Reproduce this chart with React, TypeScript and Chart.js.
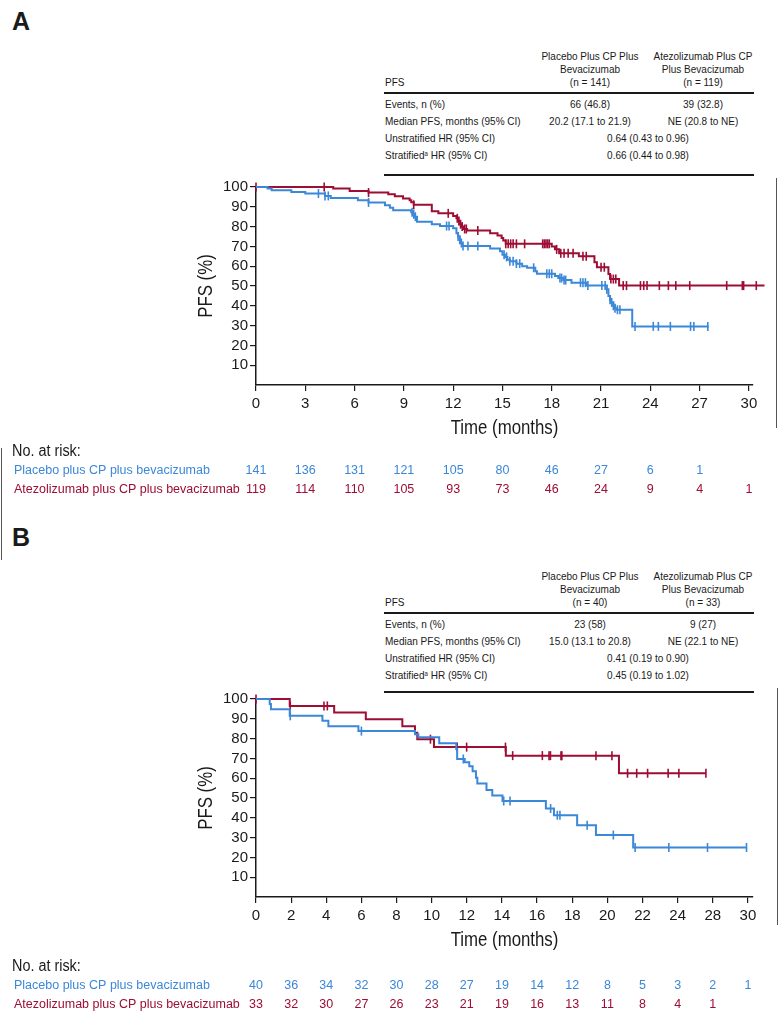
import React, { useEffect, useRef } from 'react';
import { Chart, registerables } from 'chart.js';

Chart.register(...registerables);

const FONT = "'Liberation Sans', Arial, Helvetica, sans-serif";
const BLUE = '#3b87d8';
const RED = '#9d0d34';
const INK = '#1a1a1a';

// ---------------- Panel A data ----------------
const xTicksA = [0, 3, 6, 9, 12, 15, 18, 21, 24, 27, 30];
const xLabelsA = ['0', '3', '6', '9', '12', '15', '18', '21', '24', '27', '30'];
const yTicks = [10, 20, 30, 40, 50, 60, 70, 80, 90, 100];

const placeboA_t = [0, 0.7, 0.95, 2.15, 3.0, 4.2, 4.55, 6.2, 6.85, 7.85, 8.15, 8.35, 9.45, 9.55, 9.65, 9.8, 10.7, 11.2, 12.0, 12.2, 12.3, 12.4, 12.45, 12.55, 14.25, 14.85, 15.0, 15.15, 15.3, 15.45, 15.85, 16.2, 16.5, 17.0, 17.1, 18.2, 18.4, 18.7, 19.2, 20.1, 21.35, 21.45, 21.55, 21.6, 21.75, 21.85, 21.95, 22.9];
const placeboA_s = [100, 99.2, 98.3, 97.5, 96.7, 95.5, 94.5, 93.3, 92.2, 90.8, 89.5, 88.2, 87.2, 86.2, 85.0, 82.5, 81.2, 80.3, 79.2, 76.7, 75.0, 73.3, 71.7, 70.2, 69.0, 67.5, 65.8, 64.7, 63.3, 62.5, 61.3, 60.0, 59.2, 57.5, 56.2, 55.0, 54.0, 53.0, 51.7, 50.3, 48.3, 45.0, 43.0, 41.7, 40.0, 38.7, 38.0, 29.6];
const placeboA_end = 27.55;
const placeboA_cens = [3.8, 4.2, 4.4, 6.85, 9.5, 9.6, 9.7, 11.6, 11.75, 12.3, 12.4, 12.5, 12.6, 12.9, 13.5, 15.1, 15.25, 15.45, 15.65, 15.85, 16.05, 16.9, 17.7, 17.85, 18.0, 18.5, 18.6, 18.75, 18.85, 19.75, 19.9, 20.05, 20.2, 21.05, 21.25, 21.35, 21.55, 21.65, 21.75, 21.85, 22.0, 22.15, 23.07, 24.18, 24.49, 25.22, 26.45, 26.65, 27.5];

const atezoA_t = [0, 4.7, 5.7, 6.85, 8.05, 8.45, 8.95, 9.35, 9.45, 9.6, 10.7, 11.1, 12.0, 12.2, 12.3, 12.4, 12.5, 12.6, 12.85, 14.25, 14.7, 14.95, 15.05, 15.2, 18.0, 18.2, 18.45, 19.65, 20.6, 20.75, 21.45, 21.55, 22.1];
const atezoA_s = [100, 99.2, 98.0, 97.2, 96.3, 95.3, 94.2, 93.3, 92.3, 91.0, 87.8, 86.7, 85.3, 84.2, 82.8, 81.2, 80.0, 78.8, 78.0, 76.7, 75.5, 74.2, 73.0, 71.3, 70.0, 68.5, 66.5, 65.0, 62.0, 59.5, 56.0, 53.5, 50.2];
const atezoA_end = 30.95;
const atezoA_cens = [0, 4.15, 6.85, 9.6, 11.7, 12.25, 12.35, 12.45, 12.55, 12.7, 12.8, 13.5, 15.2, 15.35, 15.5, 15.65, 15.85, 16.35, 17.45, 17.55, 17.65, 17.75, 17.85, 18.3, 18.55, 18.75, 19.0, 19.3, 19.9, 20.1, 21.0, 21.2, 21.6, 21.75, 21.9, 22.35, 22.55, 23.4, 23.6, 23.8, 24.55, 25.1, 25.55, 26.4, 28.65, 29.6, 29.68, 30.45, 30.93];

const riskPlaceboA = [141, 136, 131, 121, 105, 80, 46, 27, 6, 1];
const riskAtezoA = [119, 114, 110, 105, 93, 73, 46, 24, 9, 4, 1];

// ---------------- Panel B data ----------------
const xTicksB = [0, 2, 4, 6, 8, 10, 12, 14, 16, 18, 20, 22, 24, 26, 28];
const xLabelsB = ['0', '2', '4', '6', '8', '10', '12', '14', '16', '18', '20', '22', '24', '28', '30'];

const placeboB_t = [0, 0.78, 0.85, 1.92, 3.78, 4.12, 5.83, 9.05, 9.24, 10.43, 11.4, 11.45, 11.88, 12.14, 12.33, 12.52, 12.6, 13.12, 13.45, 14.03, 16.5, 16.96, 18.28, 19.35, 21.47];
const placeboB_s = [100, 97.5, 94.8, 91.5, 89.0, 86.3, 83.8, 82.2, 80.7, 77.7, 74.7, 69.7, 68.0, 66.0, 63.5, 60.2, 57.3, 54.0, 51.3, 48.5, 44.7, 41.3, 36.3, 31.3, 25.0];
const placeboB_end = 27.92;
const placeboB_cens = [1.95, 6.0, 11.8, 14.1, 14.46, 16.77, 17.15, 17.3, 18.85, 20.34, 21.58, 23.5, 25.7, 27.92];

const atezoB_t = [0, 1.92, 4.45, 6.25, 8.33, 9.05, 9.18, 10.13, 14.22, 20.66];
const atezoB_s = [100, 96.5, 93.2, 89.8, 86.3, 83.0, 79.7, 75.7, 71.4, 62.5];
const atezoB_end = 25.61;
const atezoB_cens = [0, 1.95, 3.87, 4.06, 9.93, 11.45, 11.99, 14.2, 14.61, 16.3, 16.68, 16.76, 17.36, 17.41, 19.35, 20.26, 21.15, 21.67, 22.29, 23.46, 24.07, 25.61];

const riskPlaceboB = [40, 36, 34, 32, 30, 28, 27, 19, 14, 12, 8, 5, 3, 2, 1];
const riskAtezoB = [33, 32, 30, 27, 26, 23, 21, 19, 16, 13, 11, 8, 4, 1];

const PLACEBO_LABEL = 'Placebo plus CP plus bevacizumab';
const ATEZO_LABEL = 'Atezolizumab plus CP plus bevacizumab';

// ---------------- helpers ----------------
function valueAt(t: number[], s: number[], x: number) {
  let v = s[0];
  for (let i = 0; i < t.length; i++) if (t[i] <= x + 1e-9) v = s[i];
  return v;
}
function stepData(t: number[], s: number[], end: number) {
  const pts = t.map((x, i) => ({ x, y: s[i] }));
  pts.push({ x: end, y: s[s.length - 1] });
  return pts;
}
function censorData(t: number[], s: number[], c: number[]) {
  return c.map((x) => ({ x, y: valueAt(t, s, x) }));
}

const kmExtras = {
  id: 'kmExtras',
  afterDraw(chart: any, _args: any, opts: any) {
    const { ctx, chartArea, scales } = chart;
    const xs = scales.x;
    ctx.save();
    ctx.fillStyle = INK;
    ctx.textAlign = 'center';
    ctx.textBaseline = 'middle';
    ctx.font = `20.5px ${FONT}`;
    ctx.save();
    ctx.translate(chartArea.left - 50, (chartArea.top + chartArea.bottom) / 2);
    ctx.rotate(-Math.PI / 2);
    ctx.scale(0.82, 1);
    ctx.fillText(opts.yTitle, 0, 0);
    ctx.restore();
    ctx.save();
    ctx.translate((chartArea.left + chartArea.right) / 2, chartArea.bottom + 43);
    ctx.scale(0.82, 1);
    ctx.fillText(opts.xTitle, 0, 0);
    ctx.restore();

    ctx.textAlign = 'left';
    ctx.font = `16px ${FONT}`;
    ctx.save();
    ctx.translate(12, chartArea.bottom + opts.riskOffsets[0]);
    ctx.scale(0.9, 1);
    ctx.fillText('No. at risk:', 0, 0);
    ctx.restore();
    ctx.font = `12.5px ${FONT}`;
    opts.rows.forEach((row: any, r: number) => {
      const y = chartArea.bottom + opts.riskOffsets[r + 1];
      ctx.fillStyle = row.color;
      ctx.textAlign = 'left';
      ctx.fillText(row.label, 14, y);
      ctx.textAlign = 'center';
      row.values.forEach((v: number, i: number) => {
        ctx.fillText(String(v), xs.getPixelForValue(opts.ticks[i]), y);
      });
    });
    ctx.restore();
  },
};

type Series = { t: number[]; s: number[]; end: number; cens: number[]; color: string };

function KMPanel(props: {
  top: number;
  height: number;
  padTop: number;
  xMax: number;
  xTicks: number[];
  xLabels: string[];
  series: Series[];
  riskOffsets: number[];
  rows: { label: string; color: string; values: number[] }[];
}) {
  const ref = useRef<HTMLCanvasElement>(null);
  useEffect(() => {
    const { xMax, xTicks, xLabels, series, rows, padTop, height, riskOffsets } = props;
    const datasets: any[] = [];
    series.forEach((sr) => {
      datasets.push({
        data: stepData(sr.t, sr.s, sr.end),
        stepped: 'before',
        borderColor: sr.color,
        borderWidth: 2,
        pointRadius: 0,
        fill: false,
        clip: false,
      });
      datasets.push({
        data: censorData(sr.t, sr.s, sr.cens),
        showLine: false,
        pointStyle: 'line',
        rotation: 90,
        pointRadius: 4.5,
        pointBorderWidth: 1.6,
        borderColor: sr.color,
        pointBorderColor: sr.color,
        backgroundColor: sr.color,
        clip: false,
      });
    });
    const xScaleHeight = 30;
    const chartBottom = 209;
    const chart = new Chart(ref.current as HTMLCanvasElement, {
      type: 'line',
      data: { datasets },
      options: {
        responsive: false,
        maintainAspectRatio: false,
        animation: false,
        layout: { padding: { left: 0, right: 27, top: padTop, bottom: height - chartBottom - xScaleHeight } },
        plugins: {
          legend: { display: false },
          tooltip: { enabled: false },
          kmExtras: { yTitle: 'PFS (%)', xTitle: 'Time (months)', rows, ticks: xTicks, riskOffsets },
        } as any,
        scales: {
          x: {
            type: 'linear',
            min: 0,
            max: xMax,
            afterBuildTicks: (s: any) => {
              s.ticks = xTicks.map((v) => ({ value: v }));
            },
            afterFit: (s: any) => {
              s.height = xScaleHeight;
            },
            ticks: {
              autoSkip: false,
              maxRotation: 0,
              padding: 4,
              color: INK,
              font: { family: FONT, size: 15 },
              callback: (_v: any, i: number) => xLabels[i],
            },
            grid: { drawOnChartArea: false, drawTicks: true, tickLength: 6, color: INK, lineWidth: 1.2 },
            border: { display: true, color: INK, width: 1.5 },
          },
          y: {
            type: 'linear',
            min: 0,
            max: 100,
            afterBuildTicks: (s: any) => {
              s.ticks = yTicks.map((v) => ({ value: v }));
            },
            afterFit: (s: any) => {
              s.width = 256;
            },
            ticks: {
              padding: 2,
              color: INK,
              font: { family: FONT, size: 15 },
            },
            grid: { drawOnChartArea: false, drawTicks: true, tickLength: 6, color: INK, lineWidth: 1.2 },
            border: { display: true, color: INK, width: 1.5 },
          },
        },
      },
      plugins: [kmExtras as any],
    });
    return () => chart.destroy();
  }, []);
  return (
    <canvas
      ref={ref}
      width={780}
      height={props.height}
      style={{ position: 'absolute', left: 0, top: props.top, width: 780, height: props.height }}
    />
  );
}

function Txt(props: { x: number; y: number; align?: 'left' | 'center'; size?: number; bold?: boolean; color?: string; squeeze?: number; children: any }) {
  const { x, y, align = 'left', size = 11.5, bold = false, color = INK, squeeze = 1 } = props;
  return (
    <div
      style={{
        position: 'absolute',
        left: x,
        top: y,
        transform: `translate(${align === 'center' ? '-50%' : '0'}, -50%) scaleX(${squeeze})`,
        transformOrigin: align === 'center' ? 'center center' : 'left center',
        whiteSpace: 'nowrap',
        lineHeight: 1,
        fontSize: size,
        fontWeight: bold ? 700 : 400,
        color,
      }}
    >
      {props.children}
    </div>
  );
}

function StatsTable(props: { top: number; nPlacebo: string; nAtezo: string; events: string[]; median: string[]; unstrat: string; strat: string; bottom: number }) {
  const T = props.top;
  const L = 385;
  const C1 = 590;
  const C2 = 703;
  const CM = 648;
  const q = 0.87;
  const line = (y: number, w: number) => (
    <div style={{ position: 'absolute', left: 384, top: y - w / 2, width: 370, height: w, background: INK }} />
  );
  return (
    <>
      <Txt x={C1} y={T + 7} align="center" squeeze={q}>Placebo Plus CP Plus</Txt>
      <Txt x={C1} y={T + 19.5} align="center" squeeze={q}>Bevacizumab</Txt>
      <Txt x={C1} y={T + 32.5} align="center" squeeze={q}>{props.nPlacebo}</Txt>
      <Txt x={C2} y={T + 7} align="center" squeeze={q}>Atezolizumab Plus CP</Txt>
      <Txt x={C2} y={T + 19.5} align="center" squeeze={q}>Plus Bevacizumab</Txt>
      <Txt x={C2} y={T + 32.5} align="center" squeeze={q}>{props.nAtezo}</Txt>
      <Txt x={L} y={T + 32.5} squeeze={q}>PFS</Txt>
      {line(T + 42.7, 2)}
      <Txt x={L} y={T + 55} squeeze={q}>Events, n (%)</Txt>
      <Txt x={C1} y={T + 55} align="center" squeeze={q}>{props.events[0]}</Txt>
      <Txt x={C2} y={T + 55} align="center" squeeze={q}>{props.events[1]}</Txt>
      <Txt x={L} y={T + 71.8} squeeze={q}>Median PFS, months (95% CI)</Txt>
      <Txt x={C1} y={T + 71.8} align="center" squeeze={q}>{props.median[0]}</Txt>
      <Txt x={C2} y={T + 71.8} align="center" squeeze={q}>{props.median[1]}</Txt>
      <Txt x={L} y={T + 88.7} squeeze={q}>Unstratified HR (95% CI)</Txt>
      <Txt x={CM} y={T + 88.7} align="center" squeeze={q}>{props.unstrat}</Txt>
      <Txt x={L} y={T + 105.5} squeeze={q}>
        Stratified<sup style={{ fontSize: 7, verticalAlign: 'top', lineHeight: 1 }}>a</sup> HR (95% CI)
      </Txt>
      <Txt x={CM} y={T + 105.5} align="center" squeeze={q}>{props.strat}</Txt>
      {line(T + props.bottom, 1.6)}
    </>
  );
}

function VLine(props: { x: number; y1: number; y2: number }) {
  return (
    <div style={{ position: 'absolute', left: props.x, top: props.y1, width: 1, height: props.y2 - props.y1, background: '#555' }} />
  );
}

export default function App() {
  return (
    <div
      style={{
        position: 'absolute',
        left: 0,
        top: 0,
        width: 780,
        height: 1024,
        overflow: 'hidden',
        background: '#fff',
        fontFamily: FONT,
        color: INK,
      }}
    >
      <VLine x={776} y1={178} y2={428} />
      <VLine x={777} y1={688} y2={925} />
      <VLine x={1} y1={448} y2={560} />
      <Txt x={12} y={21} size={25} bold>A</Txt>
      <StatsTable
        top={50}
        nPlacebo="(n = 141)"
        nAtezo="(n = 119)"
        events={['66 (46.8)', '39 (32.8)']}
        median={['20.2 (17.1 to 21.9)', 'NE (20.8 to NE)']}
        unstrat="0.64 (0.43 to 0.96)"
        strat="0.66 (0.44 to 0.98)"
        bottom={125}
      />
      <KMPanel
        top={176}
        height={335}
        padTop={9}
        xMax={30.25}
        xTicks={xTicksA}
        xLabels={xLabelsA}
        riskOffsets={[67, 86, 105]}
        series={[
          { t: placeboA_t, s: placeboA_s, end: placeboA_end, cens: placeboA_cens, color: BLUE },
          { t: atezoA_t, s: atezoA_s, end: atezoA_end, cens: atezoA_cens, color: RED },
        ]}
        rows={[
          { label: PLACEBO_LABEL, color: BLUE, values: riskPlaceboA },
          { label: ATEZO_LABEL, color: RED, values: riskAtezoA },
        ]}
      />

      <Txt x={12} y={537} size={25} bold>B</Txt>
      <StatsTable
        top={570}
        nPlacebo="(n = 40)"
        nAtezo="(n = 33)"
        events={['23 (58)', '9 (27)']}
        median={['15.0 (13.1 to 20.8)', 'NE (22.1 to NE)']}
        unstrat="0.41 (0.19 to 0.90)"
        strat="0.45 (0.19 to 1.02)"
        bottom={122}
      />
      <KMPanel
        top={688}
        height={336}
        padTop={10}
        xMax={28.29}
        xTicks={xTicksB}
        xLabels={xLabelsB}
        riskOffsets={[70, 89, 108]}
        series={[
          { t: placeboB_t, s: placeboB_s, end: placeboB_end, cens: placeboB_cens, color: BLUE },
          { t: atezoB_t, s: atezoB_s, end: atezoB_end, cens: atezoB_cens, color: RED },
        ]}
        rows={[
          { label: PLACEBO_LABEL, color: BLUE, values: riskPlaceboB },
          { label: ATEZO_LABEL, color: RED, values: riskAtezoB },
        ]}
      />
    </div>
  );
}
